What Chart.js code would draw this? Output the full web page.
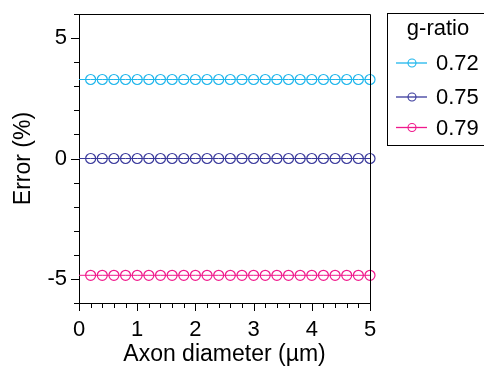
<!DOCTYPE html>
<html>
<head>
<meta charset="utf-8">
<script src="https://cdn.jsdelivr.net/npm/chart.js@4.4.1/dist/chart.umd.min.js"></script>
<style>
  html, body { margin: 0; padding: 0; background: #fff; }
  #wrap { width: 484px; height: 371px; }
</style>
</head>
<body>
<div id="wrap"><canvas id="errorChart" width="484" height="371"></canvas></div>
<script>
const diameters = [0, 0.2, 0.4, 0.6, 0.8, 1.0, 1.2, 1.4, 1.6, 1.8, 2.0, 2.2, 2.4, 2.6, 2.8,
    3.0, 3.2, 3.4, 3.6, 3.8, 4.0, 4.2, 4.4, 4.6, 4.8, 5.0];
const gRatios = ['0.72', '0.75', '0.79'];
const error072 = [3.28, 3.28, 3.28, 3.28, 3.28, 3.28, 3.28, 3.28, 3.28, 3.28, 3.28, 3.28, 3.28,
    3.28, 3.28, 3.28, 3.28, 3.28, 3.28, 3.28, 3.28, 3.28, 3.28, 3.28, 3.28, 3.28];
const error075 = [0, 0, 0, 0, 0, 0, 0, 0, 0, 0, 0, 0, 0, 0, 0, 0, 0, 0, 0, 0, 0, 0, 0, 0, 0, 0];
const error079 = [-4.85, -4.85, -4.85, -4.85, -4.85, -4.85, -4.85, -4.85, -4.85, -4.85, -4.85,
    -4.85, -4.85, -4.85, -4.85, -4.85, -4.85, -4.85, -4.85, -4.85, -4.85, -4.85, -4.85, -4.85,
    -4.85, -4.85];
const xTickLabels = ['0', '1', '2', '3', '4', '5'];
const yTickLabels = ['-5', '0', '5'];

const colors = ['#1fb6ec', '#3a3a9c', '#f0198c'];
const FONT = 'Liberation Sans, Arial, sans-serif';

const isLabelled = (v, labels) => labels.includes(String(Math.round(v * 1000) / 1000));

const makeSet = (label, values, color) => ({
    label,
    data: diameters.map((d, i) => ({ x: d, y: values[i] })),
    borderColor: color,
    borderWidth: 1,
    backgroundColor: 'transparent',
    pointBackgroundColor: 'transparent',
    pointBorderColor: color,
    pointBorderWidth: 1.2,
    pointRadius: (c) => c.dataIndex === 0 ? 0 : 5,
    clip: false
});

// tick marks (long for labelled, short for minor) plus the top/right frame
const frameTicks = {
    id: 'frameTicks',
    afterDraw(chart) {
        const { ctx, chartArea: a, scales } = chart;
        ctx.save();
        ctx.strokeStyle = '#000';
        ctx.lineWidth = 1;
        ctx.beginPath();
        ctx.moveTo(a.left, a.top + 0.5);
        ctx.lineTo(a.right + 0.5, a.top + 0.5);
        ctx.lineTo(a.right + 0.5, a.bottom);
        scales.x.ticks.forEach(t => {
            const px = Math.round(scales.x.getPixelForValue(t.value)) + 0.5;
            const len = isLabelled(t.value, xTickLabels) ? 8 : 5;
            ctx.moveTo(px, a.bottom);
            ctx.lineTo(px, a.bottom + len);
        });
        scales.y.ticks.forEach(t => {
            const py = Math.round(scales.y.getPixelForValue(t.value)) + 0.5;
            const len = isLabelled(t.value, yTickLabels) ? 8 : 5;
            ctx.moveTo(a.left, py);
            ctx.lineTo(a.left - len, py);
        });
        ctx.stroke();
        ctx.restore();
    }
};

// boxed legend to the right of the plot
const boxLegend = {
    id: 'boxLegend',
    afterDraw(chart) {
        const { ctx } = chart;
        const rows = [63, 97, 127.5];
        ctx.save();
        ctx.strokeStyle = '#000';
        ctx.lineWidth = 1;
        ctx.strokeRect(387.5, 13.5, 110, 132);
        ctx.fillStyle = '#000';
        ctx.font = '22px ' + FONT;
        ctx.textAlign = 'center';
        ctx.textBaseline = 'alphabetic';
        ctx.fillText('g-ratio', 438, 35);
        ctx.textAlign = 'left';
        ctx.textBaseline = 'middle';
        chart.data.datasets.forEach((ds, i) => {
            const y = rows[i];
            ctx.strokeStyle = ds.borderColor;
            ctx.lineWidth = 1.3;
            ctx.beginPath();
            ctx.moveTo(396, y);
            ctx.lineTo(427, y);
            ctx.stroke();
            ctx.lineWidth = 1.1;
            ctx.beginPath();
            ctx.arc(412, y, 4, 0, Math.PI * 2);
            ctx.stroke();
            ctx.fillStyle = '#000';
            ctx.fillText(ds.label, 436, y + 1);
        });
        ctx.restore();
    }
};

new Chart(document.getElementById('errorChart'), {
    type: 'line',
    data: {
        datasets: [
            makeSet(gRatios[0], error072, colors[0]),
            makeSet(gRatios[1], error075, colors[1]),
            makeSet(gRatios[2], error079, colors[2])
        ]
    },
    options: {
        responsive: false,
        animation: false,
        devicePixelRatio: 1,
        layout: { padding: { top: 14, right: 114, left: 0, bottom: 0 } },
        plugins: {
            legend: { display: false },
            tooltip: { enabled: false }
        },
        scales: {
            x: {
                type: 'linear',
                min: 0,
                max: 5,
                afterFit: (s) => { s.height = 68; s.paddingLeft = 0; s.paddingRight = 0; },
                grid: { display: false, drawTicks: false },
                border: { display: true, color: '#000', width: 1 },
                ticks: {
                    stepSize: 0.2,
                    autoSkip: false,
                    maxRotation: 0,
                    padding: 14,
                    color: '#000',
                    font: { family: FONT, size: 22 },
                    callback: (v) => isLabelled(v, xTickLabels) ? String(Math.round(v)) : ''
                },
                title: {
                    display: true,
                    text: 'Axon diameter (µm)',
                    color: '#000',
                    font: { family: FONT, size: 23 },
                    padding: { top: 0, bottom: 3 }
                }
            },
            y: {
                min: -6,
                max: 6,
                afterFit: (s) => { s.width = 79; s.paddingTop = 0; s.paddingBottom = 0; },
                grid: { display: false, drawTicks: false },
                border: { display: true, color: '#000', width: 1 },
                ticks: {
                    stepSize: 1,
                    autoSkip: false,
                    padding: 12,
                    color: '#000',
                    font: { family: FONT, size: 22 },
                    callback: (v) => isLabelled(v, yTickLabels) ? String(v) : ''
                },
                title: {
                    display: true,
                    text: 'Error (%)',
                    color: '#000',
                    font: { family: FONT, size: 23 },
                    padding: { top: 10, bottom: 0 }
                }
            }
        }
    },
    plugins: [frameTicks, boxLegend]
});
</script>
</body>
</html>
